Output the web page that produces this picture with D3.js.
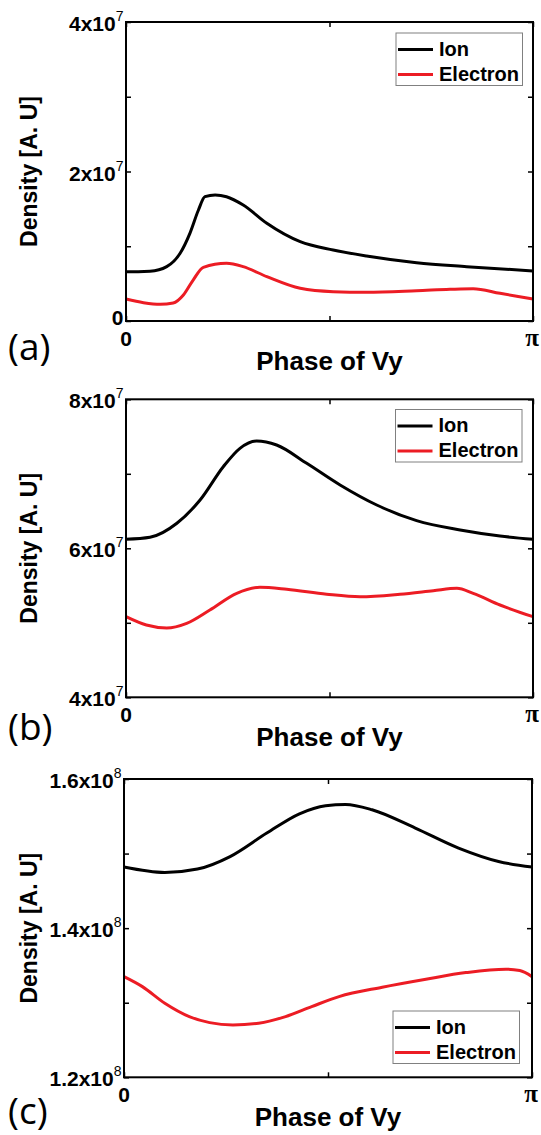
<!DOCTYPE html>
<html>
<head>
	<title>Density vs phase of Vy</title>
	<script src="https://d3js.org/d3.v7.min.js"></script>
	<style>
	body { margin: 0; background: #fff; }
	text { font-family: "Liberation Sans", Arial, sans-serif; }
	</style>
</head>
<body>
<script type="text/javascript">

	// phase values are in units of pi (0 .. 1)
	// panel (a), density in 1e7
	var phaseIonA = [0, 0.03, 0.059, 0.1, 0.133, 0.157, 0.178, 0.194, 0.219, 0.247, 0.288, 0.346, 0.428, 0.509, 0.591, 0.714, 0.837, 1]
	var ionA = [0.66, 0.66, 0.665, 0.727, 0.906, 1.173, 1.485, 1.663, 1.686, 1.663, 1.552, 1.307, 1.061, 0.95, 0.87, 0.78, 0.727, 0.669]
	var phaseElecA = [0, 0.043, 0.084, 0.116, 0.141, 0.165, 0.19, 0.247, 0.288, 0.346, 0.428, 0.509, 0.591, 0.714, 0.796, 0.853, 0.919, 1]
	var elecA = [0.294, 0.245, 0.223, 0.24, 0.348, 0.548, 0.718, 0.772, 0.727, 0.593, 0.437, 0.392, 0.384, 0.405, 0.424, 0.432, 0.37, 0.294]

	// panel (b), density in 1e7
	var phaseIonB = [0, 0.059, 0.125, 0.182, 0.239, 0.28, 0.321, 0.37, 0.444, 0.526, 0.616, 0.714, 0.821, 0.919, 1]
	var ionB = [6.121, 6.148, 6.336, 6.648, 7.095, 7.342, 7.44, 7.387, 7.141, 6.85, 6.581, 6.371, 6.246, 6.165, 6.121]
	var phaseElecB = [0, 0.05, 0.1, 0.149, 0.206, 0.272, 0.329, 0.395, 0.493, 0.575, 0.673, 0.755, 0.813, 0.853, 0.919, 1]
	var elecB = [5.082, 4.97, 4.93, 4.993, 5.172, 5.396, 5.477, 5.45, 5.383, 5.35, 5.383, 5.43, 5.463, 5.396, 5.239, 5.082]

	// panel (c), density in 1e8
	var phaseIonC = [0, 0.1, 0.18, 0.26, 0.35, 0.43, 0.494, 0.543, 0.608, 0.714, 0.82, 0.918, 1]
	var ionC = [1.4819, 1.4746, 1.4792, 1.496, 1.5275, 1.5534, 1.5642, 1.5659, 1.5588, 1.5342, 1.5074, 1.4894, 1.4819]
	var phaseElecC = [0, 0.045, 0.1, 0.16, 0.21, 0.267, 0.33, 0.396, 0.46, 0.527, 0.633, 0.74, 0.838, 0.936, 0.97, 1]
	var elecC = [1.335, 1.3216, 1.2993, 1.2814, 1.2733, 1.2702, 1.2725, 1.2814, 1.2948, 1.3082, 1.3208, 1.3315, 1.3404, 1.345, 1.3431, 1.335]

	// y ticks and labels  [value, mantissa, exponent]
	var ticksA = [0, 1, 2, 3, 4]
	var labelsA = [[0, "0", ""], [2, "2x10", "7"], [4, "4x10", "7"]]
	var ticksB = [4, 5, 6, 7, 8]
	var labelsB = [[4, "4x10", "7"], [6, "6x10", "7"], [8, "8x10", "7"]]
	var ticksC = [1.2, 1.3, 1.4, 1.5, 1.6]
	var labelsC = [[1.2, "1.2x10", "8"], [1.4, "1.4x10", "8"], [1.6, "1.6x10", "8"]]

	var xTickLabels = [[0, "0"], [1, "\u03c0"]]
	var seriesNames = ["Ion", "Electron"]
	var seriesColors = ["#000000", "#ec1c24"]

	var svg = d3.select("body")
				.append("svg")
				.attr("width", 541)
				.attr("height", 1135)

	// layout of the three panels
	var panels = [
		{tag: "(a)", left: 126, right: 533, top: 22, bottom: 321, ticks: ticksA, labels: labelsA,
		 ion: [phaseIonA, ionA], elec: [phaseElecA, elecA], legendX: 396, legendY: 33, tagY: 360},
		{tag: "(b)", left: 126, right: 533, top: 399.3, bottom: 697.3, ticks: ticksB, labels: labelsB,
		 ion: [phaseIonB, ionB], elec: [phaseElecB, elecB], legendX: 395.5, legendY: 409.5, tagY: 740},
		{tag: "(c)", left: 124, right: 532, top: 779, bottom: 1077.3, ticks: ticksC, labels: labelsC,
		 ion: [phaseIonC, ionC], elec: [phaseElecC, elecC], legendX: 393, legendY: 1011, tagY: 1124}
	]

	panels.forEach(function(p) {

		var x = d3.scaleLinear().domain([0, 1]).range([p.left, p.right])
		var y = d3.scaleLinear().domain([p.ticks[0], p.ticks[p.ticks.length - 1]]).range([p.bottom, p.top])

		var g = svg.append("g")

		// inner ticks on all four sides
		var tickAxes = [
			[d3.axisLeft(y).tickValues(p.ticks).tickSize(-5), "translate(" + p.left + ",0)"],
			[d3.axisRight(y).tickValues(p.ticks).tickSize(-5), "translate(" + p.right + ",0)"],
			[d3.axisBottom(x).tickValues([0, 0.5, 1]).tickSize(-5), "translate(0," + p.bottom + ")"],
			[d3.axisTop(x).tickValues([0, 0.5, 1]).tickSize(-5), "translate(0," + p.top + ")"]
		]
		tickAxes.forEach(function(a) {
			var ax = g.append("g")
				.attr("transform", a[1])
				.call(a[0].tickFormat(""))
			ax.select(".domain").remove()
			ax.selectAll("line").attr("stroke", "#000").attr("stroke-width", 1.5)
		})

		// lines
		var line = d3.line()
			.x(function(d) { return x(d[0]) })
			.y(function(d) { return y(d[1]) })
			.curve(d3.curveMonotoneX)

		var series = [p.ion, p.elec]
		series.forEach(function(s, i) {
			var pts = s[0].map(function(f, j) { return [f, s[1][j]] })
			g.append("path")
				.datum(pts)
				.attr("d", line)
				.attr("fill", "none")
				.attr("stroke", seriesColors[i])
				.attr("stroke-width", 3)
				.attr("stroke-linejoin", "round")
		})

		// frame
		g.append("rect")
			.attr("x", p.left)
			.attr("y", p.top)
			.attr("width", p.right - p.left)
			.attr("height", p.bottom - p.top)
			.attr("fill", "none")
			.attr("stroke", "#000")
			.attr("stroke-width", 2)

		// y tick labels, with exponent as superscript
		p.labels.forEach(function(l) {
			var t = g.append("text")
				.attr("x", p.left - 2.5)
				.attr("y", y(l[0]) + (l[2] ? 9 : 4))
				.attr("text-anchor", "end")
				.attr("font-weight", "bold")
				.attr("font-size", "21px")
			t.append("tspan").text(l[1])
			if (l[2]) {
				t.append("tspan")
					.attr("dy", -10)
					.attr("font-size", "14px")
					.attr("font-weight", "normal")
					.text(l[2])
			}
		})

		// x tick labels (pi kept inside the page edge)
		xTickLabels.forEach(function(l) {
			g.append("text")
				.attr("x", l[0] == 1 ? x(l[0]) - 1 : x(l[0]))
				.attr("y", p.bottom + 24.5)
				.attr("text-anchor", "middle")
				.attr("font-weight", "bold")
				.attr("font-size", l[0] == 1 ? "25px" : "21px")
				.style("font-family", l[0] == 1 ? "'Liberation Serif', serif" : null)
				.text(l[1])
		})

		// axis titles
		g.append("text")
			.attr("x", (p.left + p.right) / 2)
			.attr("y", p.bottom + 49)
			.attr("text-anchor", "middle")
			.attr("font-weight", "bold")
			.attr("font-size", "26px")
			.text("Phase of Vy")

		g.append("text")
			.attr("transform", "translate(37," + ((p.top + p.bottom) / 2) + ") rotate(-90)")
			.attr("text-anchor", "middle")
			.attr("font-weight", "bold")
			.attr("font-size", "23px")
			.text("Density [A. U]")

		// panel tag
		g.append("text")
			.attr("x", 8)
			.attr("y", p.tagY)
			.attr("font-size", "37px")
			.style("font-family", "'Open Sans', 'Noto Sans', sans-serif")
			.text(p.tag)

		// legend
		var lg = g.append("g").attr("transform", "translate(" + p.legendX + "," + p.legendY + ")")
		lg.append("rect")
			.attr("width", 126.5)
			.attr("height", 52.5)
			.attr("fill", "#fff")
			.attr("stroke", "#808080")
			.attr("stroke-width", 1)
		seriesNames.forEach(function(n, i) {
			var ly = 16.5 + i * 25
			lg.append("line")
				.attr("x1", 2)
				.attr("x2", 37)
				.attr("y1", ly)
				.attr("y2", ly)
				.attr("stroke", seriesColors[i])
				.attr("stroke-width", 3)
			lg.append("text")
				.attr("x", 43)
				.attr("y", ly + 6)
				.attr("font-weight", "bold")
				.attr("font-size", "20px")
				.text(n)
		})
	})

</script>
</body>
</html>
